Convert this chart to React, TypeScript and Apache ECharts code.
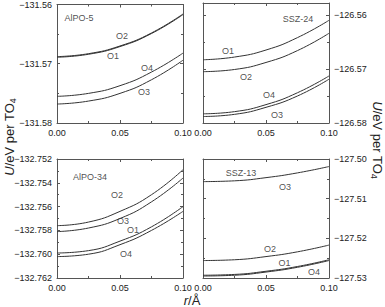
import React, { useEffect, useRef } from "react";
import * as echarts from "echarts";

const rValues = [0, 0.025, 0.05, 0.075, 0.1];

// Panel A: AlPO-5
const alpo5_O2 = [-131.5688, -131.5683, -131.567, -131.5648, -131.5616];
const alpo5_O1 = [-131.5689, -131.5684, -131.5671, -131.5649, -131.5617];
const alpo5_O4 = [-131.5755, -131.575, -131.5737, -131.5714, -131.5682];
const alpo5_O3 = [-131.5768, -131.5763, -131.575, -131.5727, -131.5694];

// Panel B: SSZ-24
const ssz24_O1 = [-126.5683, -126.5678, -126.5665, -126.5642, -126.561];
const ssz24_O2 = [-126.5705, -126.5701, -126.5688, -126.5666, -126.5634];
const ssz24_O4 = [-126.5783, -126.5779, -126.5766, -126.5744, -126.5713];
const ssz24_O3 = [-126.5788, -126.5784, -126.5771, -126.575, -126.5719];

// Panel C: AlPO-34
const alpo34_O2 = [-132.7576, -132.7573, -132.7564, -132.755, -132.7529];
const alpo34_O3 = [-132.7581, -132.7578, -132.757, -132.7556, -132.7536];
const alpo34_O1 = [-132.7599, -132.7597, -132.7589, -132.7577, -132.756];
const alpo34_O4 = [-132.7602, -132.76, -132.7592, -132.758, -132.7564];

// Panel D: SSZ-13
const ssz13_O3 = [-127.5057, -127.5055, -127.5047, -127.5035, -127.5019];
const ssz13_O2 = [-127.5256, -127.5254, -127.5246, -127.5234, -127.5217];
const ssz13_O1 = [-127.5293, -127.5291, -127.5283, -127.5271, -127.5254];
const ssz13_O4 = [-127.5295, -127.5293, -127.5285, -127.5273, -127.5256];

// Annotations [r, U, text]
const notesA = [[0.0175, -131.5623, "AlPO-5"], [0.0516, -131.5653, "O2"], [0.0444, -131.5687, "O1"], [0.0714, -131.5707, "O4"], [0.069, -131.5748, "O3"]];
const notesB = [[0.0754, -126.5607, "SSZ-24"], [0.0198, -126.5667, "O1"], [0.0341, -126.5715, "O2"], [0.0524, -126.5748, "O4"], [0.0587, -126.5785, "O3"]];
const notesC = [[0.0262, -132.7535, "AlPO-34"], [0.0476, -132.755, "O2"], [0.0524, -132.7572, "O3"], [0.0603, -132.758, "O1"], [0.0548, -132.76, "O4"]];
const notesD = [[0.0302, -127.5035, "SSZ-13"], [0.0651, -127.5071, "O3"], [0.0532, -127.5227, "O2"], [0.0647, -127.5262, "O1"], [0.0881, -127.5285, "O4"]];

const yRanges = [
  { min: -131.58, max: -131.56, interval: 0.01, dec: 2, side: "left" },
  { min: -126.58, max: -126.5578, interval: 0.01, dec: 2, side: "right" },
  { min: -132.762, max: -132.752, interval: 0.002, dec: 3, side: "left" },
  { min: -127.53, max: -127.5, interval: 0.01, dec: 2, side: "right" },
];

const panelLines = [
  [alpo5_O2, alpo5_O1, alpo5_O4, alpo5_O3],
  [ssz24_O1, ssz24_O2, ssz24_O4, ssz24_O3],
  [alpo34_O2, alpo34_O3, alpo34_O1, alpo34_O4],
  [ssz13_O3, ssz13_O2, ssz13_O1, ssz13_O4],
];
const panelNotes = [notesA, notesB, notesC, notesD];

const FONT = "Liberation Sans";
const TXT = "#222";
const AX = "#555";

export default function App() {
  const ref = useRef<HTMLDivElement>(null);
  useEffect(() => {
    if (!ref.current) return;
    const chart = echarts.init(ref.current, undefined, { renderer: "svg" });
    const grids = [
      { left: 57, top: 3, width: 126, height: 120 },
      { left: 203, top: 3, width: 126, height: 120 },
      { left: 57, top: 159, width: 126, height: 119 },
      { left: 203, top: 159, width: 126, height: 119 },
    ];
    const xAxes: any[] = [];
    const yAxes: any[] = [];
    const series: any[] = [];
    grids.forEach((g, i) => {
      const base = {
        type: "value",
        gridIndex: i,
        min: 0,
        max: 0.1,
        interval: 0.05,
        axisLine: { show: true, onZero: false, lineStyle: { color: AX, width: 1 } },
        axisTick: { show: true, inside: true, length: 3, lineStyle: { color: AX } },
        minorTick: { show: true, splitNumber: 2, length: 2, lineStyle: { color: AX } },
        splitLine: { show: false },
      };
      xAxes.push({
        ...base,
        position: "bottom",
        axisLabel: { fontSize: 9, color: TXT, fontFamily: FONT, margin: 5, formatter: (v: number) => v.toFixed(2) },
      });
      xAxes.push({ ...base, position: "top", axisLabel: { show: false } });
      const yr = yRanges[i];
      const ybase = {
        type: "value",
        gridIndex: i,
        min: yr.min,
        max: yr.max,
        interval: yr.interval,
        axisLine: { show: true, onZero: false, lineStyle: { color: AX, width: 1 } },
        axisTick: { show: true, inside: true, length: 3, lineStyle: { color: AX } },
        minorTick: { show: true, splitNumber: 2, length: 2, lineStyle: { color: AX } },
        splitLine: { show: false },
      };
      const other = yr.side === "left" ? "right" : "left";
      yAxes.push({
        ...ybase,
        position: yr.side,
        axisLabel: {
          fontSize: 9,
          color: TXT,
          fontFamily: FONT,
          margin: 5,
          formatter: (v: number) => {
            const k = v / yr.interval;
            if (Math.abs(k - Math.round(k)) > 1e-4) return "";
            return (v < 0 ? "\u2212" : "") + Math.abs(v).toFixed(yr.dec);
          },
        },
      });
      yAxes.push({ ...ybase, position: other, axisLabel: { show: false } });
      panelLines[i].forEach((vals) => {
        series.push({
          type: "line",
          xAxisIndex: i * 2,
          yAxisIndex: i * 2,
          data: rValues.map((r, j) => [r, vals[j]]),
          smooth: true,
          showSymbol: false,
          symbol: "none",
          silent: true,
          lineStyle: { color: "#333", width: 1 },
        });
      });
      series.push({
        type: "scatter",
        xAxisIndex: i * 2,
        yAxisIndex: i * 2,
        data: panelNotes[i],
        symbolSize: 1,
        silent: true,
        itemStyle: { color: "transparent" },
        label: {
          show: true,
          position: "inside",
          formatter: (p: any) => p.data[2],
          fontSize: 9,
          color: TXT,
          fontFamily: FONT,
        },
      });
    });
    const yTitleRich = {
      i: { fontStyle: "italic", fontSize: 13, fontFamily: FONT, fill: TXT },
      n: { fontSize: 13, fontFamily: FONT, fill: TXT },
      s: { fontSize: 9, fontFamily: FONT, fill: TXT, padding: [7, 0, 0, 0] },
    };
    chart.setOption({
      animation: false,
      grid: grids.map((g) => ({ ...g, containLabel: false })),
      xAxis: xAxes,
      yAxis: yAxes,
      series,
      graphic: [
        {
          type: "text",
          x: 9,
          y: 137,
          rotation: Math.PI / 2,
          style: {
            text: "{i|U}{n|/eV per TO}{s|4}",
            rich: yTitleRich,
            align: "center",
            verticalAlign: "middle",
            fill: TXT,
          },
        },
        {
          type: "text",
          x: 377,
          y: 140,
          rotation: -Math.PI / 2,
          style: {
            text: "{i|U}{n|/eV per TO}{s|4}",
            rich: yTitleRich,
            align: "center",
            verticalAlign: "middle",
            fill: TXT,
          },
        },
        {
          type: "text",
          x: 192,
          y: 300,
          style: {
            text: "{i|r}{n|/\u00c5}",
            rich: {
              i: { fontStyle: "italic", fontSize: 13, fontFamily: FONT, fill: TXT },
              n: { fontSize: 13, fontFamily: FONT, fill: TXT },
            },
            align: "center",
            verticalAlign: "middle",
          },
        },
      ],
    });
    return () => chart.dispose();
  }, []);
  return <div ref={ref} style={{ position: "fixed", left: 0, top: 0, width: 385, height: 307, background: "#fff" }} />;
}
